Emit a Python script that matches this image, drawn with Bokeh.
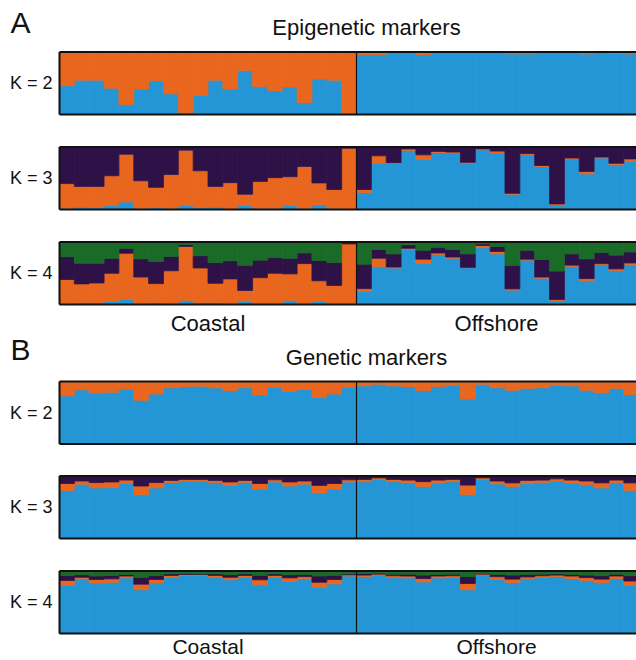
from bokeh.plotting import figure
from bokeh.models import Range1d, ColumnDataSource
from bokeh.core.properties import value
from bokeh.embed import file_html
from bokeh.resources import INLINE

# ---------------- data (cumulative membership, bottom -> top: blue, orange, purple, green)
epi_k2_coastal_blue = [0.46,0.55,0.55,0.42,0.16,0.41,0.54,0.33,0.03,0.31,0.55,0.41,0.70,0.45,0.38,0.44,0.19,0.57,0.55,0.0]
epi_k2_offshore_blue = [0.96,0.96,0.99,0.99,0.96,0.99,0.99,0.99,0.99,0.99,0.97,0.97,0.99,0.99,0.99,0.97,0.99,0.98,0.97]

epi_k3_coastal_blue = [0.02,0.04,0.03,0.07,0.12,0.02,0.03,0.02,0.065,0.03,0.04,0.01,0.065,0.02,0.02,0.065,0.02,0.075,0.02,0.0]
epi_k3_coastal_orange = [0.415,0.37,0.37,0.54,0.885,0.46,0.355,0.56,0.95,0.62,0.37,0.43,0.245,0.45,0.51,0.525,0.69,0.425,0.32,0.98]
epi_k3_offshore_blue = [0.27,0.74,0.74,0.945,0.80,0.91,0.905,0.74,0.955,0.905,0.245,0.875,0.69,0.08,0.81,0.57,0.825,0.715,0.77]
epi_k3_offshore_orange = [0.32,0.86,0.75,0.97,0.875,0.93,0.92,0.755,0.97,0.935,0.26,0.895,0.705,0.09,0.825,0.61,0.84,0.74,0.81]

epi_k4_coastal_blue = [0.02,0.03,0.03,0.05,0.08,0.02,0.03,0.02,0.065,0.03,0.03,0.01,0.05,0.02,0.02,0.065,0.02,0.055,0.02,0.0]
epi_k4_coastal_orange = [0.40,0.33,0.345,0.50,0.82,0.44,0.335,0.54,0.93,0.585,0.34,0.41,0.225,0.43,0.50,0.49,0.655,0.38,0.305,0.97]
epi_k4_coastal_purple = [0.765,0.66,0.66,0.74,0.90,0.73,0.69,0.77,0.96,0.78,0.67,0.70,0.63,0.71,0.75,0.74,0.825,0.705,0.67,0.99]
epi_k4_offshore_blue = [0.21,0.61,0.585,0.88,0.655,0.80,0.74,0.59,0.91,0.81,0.23,0.71,0.42,0.065,0.61,0.38,0.64,0.54,0.635]
epi_k4_offshore_orange = [0.255,0.74,0.60,0.90,0.725,0.825,0.76,0.595,0.945,0.85,0.25,0.725,0.44,0.08,0.63,0.415,0.655,0.57,0.665]
epi_k4_offshore_purple = [0.645,0.88,0.81,0.955,0.87,0.915,0.88,0.81,0.97,0.93,0.625,0.87,0.72,0.535,0.81,0.73,0.83,0.79,0.84]

gen_k2_coastal_blue = [0.77,0.865,0.815,0.83,0.88,0.70,0.80,0.90,0.92,0.925,0.90,0.855,0.90,0.785,0.91,0.845,0.87,0.745,0.80,0.91]
gen_k2_offshore_blue = [0.93,0.955,0.93,0.92,0.855,0.92,0.94,0.72,0.955,0.90,0.86,0.89,0.90,0.94,0.93,0.86,0.82,0.89,0.79]

gen_k3_coastal_blue = [0.77,0.87,0.81,0.815,0.88,0.70,0.81,0.895,0.92,0.92,0.895,0.85,0.895,0.79,0.905,0.84,0.87,0.73,0.79,0.905]
gen_k3_coastal_orange = [0.88,0.92,0.895,0.905,0.935,0.84,0.895,0.93,0.945,0.945,0.93,0.905,0.93,0.88,0.94,0.905,0.92,0.85,0.88,0.94]
gen_k3_offshore_blue = [0.91,0.945,0.91,0.89,0.83,0.89,0.91,0.70,0.945,0.875,0.83,0.88,0.90,0.92,0.89,0.865,0.81,0.89,0.77]
gen_k3_offshore_orange = [0.945,0.97,0.945,0.935,0.91,0.935,0.945,0.855,0.97,0.92,0.89,0.93,0.935,0.955,0.935,0.92,0.89,0.935,0.89]

gen_k4_coastal_blue = [0.77,0.875,0.81,0.82,0.89,0.70,0.81,0.90,0.93,0.93,0.90,0.86,0.90,0.785,0.90,0.835,0.875,0.74,0.795,0.92]
gen_k4_coastal_orange = [0.85,0.90,0.865,0.875,0.92,0.79,0.865,0.93,0.945,0.945,0.93,0.90,0.93,0.86,0.93,0.89,0.91,0.82,0.865,0.94]
gen_k4_coastal_purple = [0.93,0.94,0.92,0.93,0.945,0.90,0.93,0.955,0.96,0.955,0.955,0.94,0.955,0.93,0.955,0.94,0.945,0.92,0.93,0.955]
gen_k4_offshore_blue = [0.91,0.935,0.895,0.89,0.825,0.89,0.895,0.70,0.935,0.87,0.815,0.88,0.895,0.91,0.88,0.85,0.815,0.88,0.77]
gen_k4_offshore_orange = [0.935,0.95,0.925,0.92,0.88,0.92,0.925,0.80,0.95,0.91,0.87,0.905,0.925,0.935,0.92,0.895,0.87,0.92,0.84]
gen_k4_offshore_purple = [0.96,0.965,0.95,0.95,0.935,0.945,0.95,0.91,0.96,0.945,0.935,0.945,0.95,0.955,0.945,0.935,0.925,0.95,0.925]

cluster_colors = ["#2596d5", "#e9661f", "#2e1147", "#1a6b27"]
group_labels = ["Coastal", "Offshore"]
k_labels = ["K = 2", "K = 3", "K = 4"]
section_titles = ["Epigenetic markers", "Genetic markers"]
section_letters = ["A", "B"]

# ---------------- layout helpers (pixel geometry of the page)
W, H = 636, 660
X0_PX, BAR_PX = 59.0, 14.85          # left edge of first bar, bar width (px)
PANEL_PX = 62.5
def xd(px):   # px -> data x
    return (px - X0_PX) / BAR_PX
def yd(py):   # px (from top) -> data y
    return (H - py) / PANEL_PX

panel_bottoms_px = [114, 209, 304, 443.5, 538, 633]

panels = [
    [epi_k2_coastal_blue + epi_k2_offshore_blue],
    [epi_k3_coastal_blue + epi_k3_offshore_blue, epi_k3_coastal_orange + epi_k3_offshore_orange],
    [epi_k4_coastal_blue + epi_k4_offshore_blue, epi_k4_coastal_orange + epi_k4_offshore_orange,
     epi_k4_coastal_purple + epi_k4_offshore_purple],
    [gen_k2_coastal_blue + gen_k2_offshore_blue],
    [gen_k3_coastal_blue + gen_k3_offshore_blue, gen_k3_coastal_orange + gen_k3_offshore_orange],
    [gen_k4_coastal_blue + gen_k4_offshore_blue, gen_k4_coastal_orange + gen_k4_offshore_orange,
     gen_k4_coastal_purple + gen_k4_offshore_purple],
]
n_coastal = len(epi_k2_coastal_blue)

p = figure(width=W, height=H, output_backend="svg", toolbar_location=None,
           x_range=Range1d(xd(0), xd(W)), y_range=Range1d(0, yd(0)), min_border=0)
p.axis.visible = False
p.grid.visible = False
p.outline_line_color = None
p.background_fill_color = "white"

font = value("Liberation Sans")
x_end = xd(W) + 1
for pi, bounds in enumerate(panels):
    base = yd(panel_bottoms_px[pi])
    n = len(bounds[0])
    levels = [[0.0] * n] + bounds + [[1.0] * n]
    left, right, bottom, top, color = [], [], [], [], []
    for li in range(len(levels) - 1):
        for i in range(n):
            left.append(i); right.append(i + 1)
            bottom.append(base + levels[li][i]); top.append(base + levels[li + 1][i])
            color.append(cluster_colors[li])
    src = ColumnDataSource(dict(left=left, right=right, bottom=bottom, top=top, color=color))
    p.quad(left="left", right="right", bottom="bottom", top="top", fill_color="color",
           line_color="color", line_width=0.8, source=src)
    # frame (right side cut off as in the figure)
    p.segment(x0=[0, 0, 0], y0=[base, base + 1, base], x1=[x_end, x_end, 0], y1=[base, base + 1, base + 1],
              line_color="#111111", line_width=2)
    p.segment(x0=[n_coastal], y0=[base], x1=[n_coastal], y1=[base + 1], line_color="#111111", line_width=1.2)
    # K label
    p.text(x=[xd(52)], y=[base + 0.5], text=[k_labels[pi % 3]], text_align="right",
           text_baseline="middle", text_font=font, text_font_size="18px",
           text_color="#111111")

# section letters and titles
for si, (py_letter, py_title) in enumerate([(22, 27), (349, 357)]):
    p.text(x=[xd(10)], y=[yd(py_letter)], text=[section_letters[si]], text_align="left",
           text_baseline="middle", text_font=font, text_font_size="30px", text_color="#111111")
    p.text(x=[xd(366)], y=[yd(py_title)], text=[section_titles[si]], text_align="center",
           text_baseline="middle", text_font=font, text_font_size="22px", text_color="#111111")

# group labels
for py, fs in ((323, "22px"), (646, "21px")):
    p.text(x=[n_coastal / 2, (n_coastal + xd(W)) / 2], y=[yd(py), yd(py)], text=group_labels,
           text_align="center", text_baseline="middle", text_font=font, text_font_size=fs,
           text_color="#111111")

open("out.html", "w").write(file_html(p, INLINE))
